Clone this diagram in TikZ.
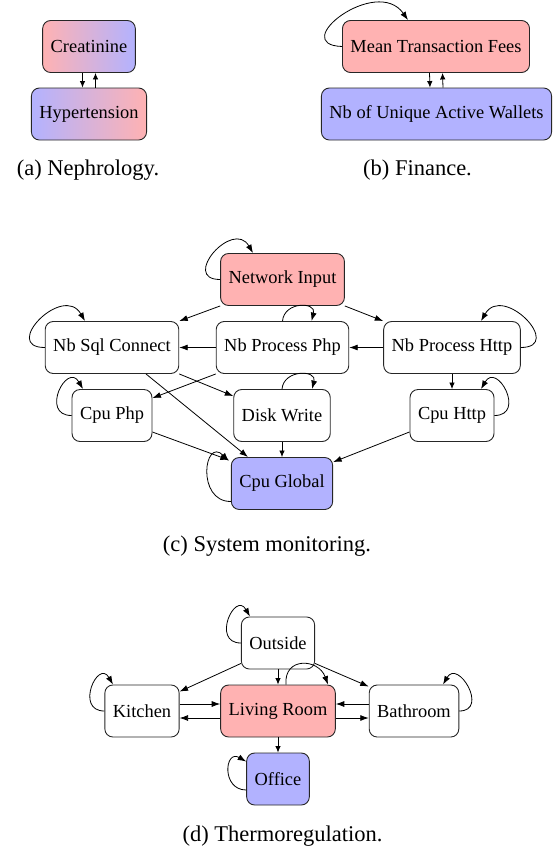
\documentclass[tikz,border=0pt]{standalone}
\usepackage{fontspec}
\setmainfont{Liberation Serif}
\usetikzlibrary{arrows.meta}
\begin{document}
\begin{tikzpicture}[x=1pt,y=1pt,
  box/.style={draw=black!85, line width=0.9pt, rounded corners=8pt, minimum height=52pt, inner xsep=8pt, inner ysep=0pt, font=\fontsize{18.4}{22}\selectfont},
  redbox/.style={box, fill=red!30},
  bluebox/.style={box, fill=blue!30},
  edge/.style={-{Latex[length=8.5pt,width=6pt]}, line width=0.8pt, black},
  shortedge/.style={-{Latex[length=6.5pt,width=5.5pt]}, line width=0.8pt, black},
  captext/.style={font=\fontsize{22.5}{27}\selectfont, inner sep=0pt},
]
\useasboundingbox (0,0) rectangle (553,-849);

% (a)
\node[box, left color=red!30, right color=blue!30] (crea) at (89,-46.5) {Creatinine};
\node[box, left color=blue!30, right color=red!30] (hyper) at (89,-114) {Hypertension};
\draw[shortedge] ([xshift=-6.5pt]crea.south) -- ([xshift=-6.5pt]hyper.north);
\draw[shortedge] ([xshift=6.5pt]hyper.north) -- ([xshift=6.5pt]crea.south);
\node[captext] (capa) at (88,-170) {(a) Nephrology.};

% (b)
\node[redbox] (mtf) at (436,-46.5) {Mean Transaction Fees};
\node[bluebox] (wal) at (436.5,-114) {Nb of Unique Active Wallets};
\draw[shortedge] ([xshift=-6.5pt]mtf.south) -- ([xshift=-6.5pt]wal.north);
\draw[shortedge] ([xshift=6.5pt]wal.north) -- ([xshift=6.5pt]mtf.south);
\draw[edge] (mtf.west) to[out=178,in=125,distance=55pt] ([xshift=-28pt]mtf.north);
\node[captext] (capb) at (417.5,-170) {(b) Finance.};

% (c)
\node[redbox] (net) at (282.5,-279.5) {Network Input};
\node[box] (sql) at (112,-347.5) {Nb Sql Connect};
\node[box] (php) at (282.5,-347.5) {Nb Process Php};
\node[box] (http) at (452,-347.5) {Nb Process Http};
\node[box] (cphp) at (112,-415.5) {Cpu Php};
\node[box] (disk) at (282,-415.5) {Disk Write};
\node[box] (chttp) at (452,-415.5) {Cpu Http};
\node[bluebox] (glob) at (282,-483.5) {Cpu Global};

\draw[edge] (net.west) to[out=180,in=120,distance=40pt] ([xshift=-29.5pt]net.north);
\draw[edge] (sql.west) to[out=180,in=120,distance=44pt] ([xshift=-27pt]sql.north);
\draw[edge] (php.north) to[out=85,in=75,distance=20pt] ([xshift=29pt]php.north);
\draw[edge] (http.east) to[out=0,in=60,distance=44pt] ([xshift=29pt]http.north);
\draw[edge] (cphp.west) to[out=180,in=120,distance=32pt] ([xshift=-29pt]cphp.north);
\draw[edge] (disk.north) to[out=85,in=75,distance=20pt] ([xshift=30pt]disk.north);
\draw[edge] (chttp.east) to[out=0,in=60,distance=32pt] ([xshift=29pt]chttp.north);
\draw[edge] ([yshift=-18pt]glob.west) to[out=180,in=135,distance=35pt] ([shift={(-2pt,-4pt)}]glob.north west);

\draw[edge] (net.south west) -- (sql.north east);
\draw[edge] (net.south east) -- (http.north west);
\draw[edge] (php.west) -- (sql.east);
\draw[edge] (http.west) -- (php.east);
\draw[edge] (php.south west) -- ([yshift=-9pt]cphp.north east);
\draw[edge] (sql.south east) -- ([yshift=-7pt]disk.north west);
\draw[edge] ([xshift=34pt]sql.south) -- ([xshift=-34pt]glob.north);
\draw[edge] ([yshift=-16.5pt]cphp.east) -- ([shift={(-2pt,-3pt)}]glob.north west);
\draw[shortedge] (disk.south) -- (glob.north);
\draw[shortedge] (http.south) -- (chttp.north);
\draw[edge] ([yshift=10pt]chttp.south west) -- ([yshift=-5pt]glob.north east);
\node[captext] (capc) at (267,-546) {(c) System monitoring.};

% (d)
\node[box] (out) at (278,-643) {Outside};
\node[box] (kit) at (142,-711) {Kitchen};
\node[redbox] (liv) at (278,-711) {Living Room};
\node[box] (bath) at (414,-711) {Bathroom};
\node[bluebox] (off) at (278,-779) {Office};

\draw[edge] (out.west) to[out=180,in=120,distance=30pt] ([xshift=-28pt]out.north);
\draw[edge] (kit.west) to[out=180,in=120,distance=30pt] ([xshift=-29pt]kit.north);
\draw[edge] (bath.east) to[out=0,in=60,distance=30pt] ([xshift=29pt]bath.north);
\draw[edge] ([xshift=8pt]liv.north) to[out=95,in=110,distance=28pt] ([xshift=50pt]liv.north);
\draw[edge] ([yshift=-11pt]off.west) to[out=180,in=150,distance=25pt] ([yshift=-9pt]off.north west);

\draw[edge] ([yshift=6pt]out.south west) -- ([yshift=-7pt]kit.north east);
\draw[shortedge] (out.south) -- (liv.north);
\draw[edge] ([yshift=6pt]out.south east) -- ([yshift=-2pt]bath.north west);
\draw[edge] ([yshift=7pt]kit.east) -- ([yshift=7pt]liv.west);
\draw[edge] ([yshift=-7pt]liv.west) -- ([yshift=-7pt]kit.east);
\draw[edge] ([yshift=7pt]bath.west) -- ([yshift=7pt]liv.east);
\draw[edge] ([yshift=-7pt]liv.east) -- ([yshift=-7pt]bath.west);
\draw[shortedge] (liv.south) -- (off.north);
\node[captext] (capd) at (282.5,-836) {(d) Thermoregulation.};
\end{tikzpicture}
\end{document}
